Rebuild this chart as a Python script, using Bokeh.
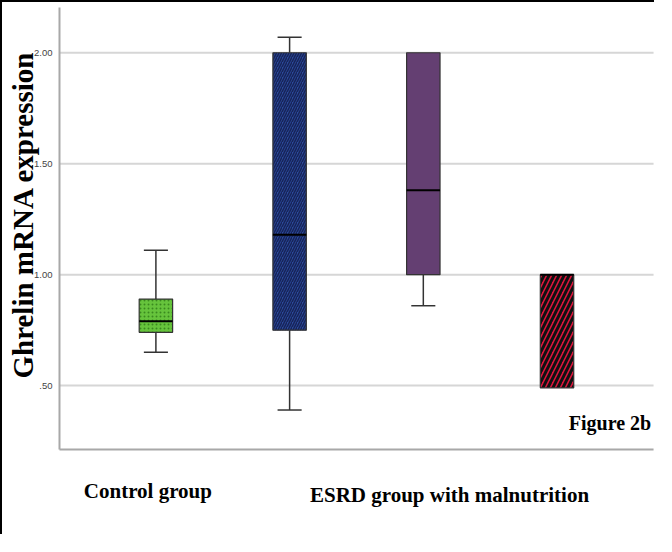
from bokeh.plotting import figure
from bokeh.models import Label, Range1d, ColumnDataSource
from bokeh.embed import file_html
from bokeh.resources import INLINE

# ---- data ----
groups = ["Control", "ESRD A", "ESRD B", "ESRD C"]
positions = [1, 2, 3, 4]
lower_whisker = [0.65, 0.39, 0.86, 0.49]
q1 = [0.74, 0.75, 1.00, 0.49]
median = [0.79, 1.18, 1.38, 1.00]
q3 = [0.89, 2.00, 2.00, 1.00]
upper_whisker = [1.11, 2.07, 2.00, 1.00]
fills = ["#66c43c", "#2c4a9c", "#643f72", "#e0143c"]
hatches = [".", "/", " ", "/"]
hatch_colors = ["#3a8a1e", "#16245a", "#643f72", "#111111"]
y_ticks = [0.5, 1.0, 1.5, 2.0]
y_tick_labels = [".50", "1.00", "1.50", "2.00"]
category_labels = ["Control group", "ESRD group with malnutrition"]
category_label_pos = [0.94, 3.196]

# axis extent (data units)
X_MIN, X_MAX = 0.279, 4.722
Y_MIN, Y_MAX = 0.212, 2.204

W, H = 654, 534
p = figure(width=W, height=H, output_backend="svg", toolbar_location=None,
           x_range=Range1d(-0.1473, 4.744), y_range=Range1d(-0.180, 2.2265),
           min_border=0)
p.styles = {"border-left": "2px solid black", "border-top": "2px solid black"}
p.outline_line_color = None
p.background_fill_color = "white"
p.border_fill_color = "white"
p.xaxis.visible = False
p.yaxis.visible = False
p.xgrid.visible = False
p.ygrid.visible = False

# gridlines
p.segment(x0=[X_MIN] * len(y_ticks), x1=[X_MAX] * len(y_ticks), y0=y_ticks, y1=y_ticks,
          line_color="#d6d6d6", line_width=2)
# axis lines
p.segment(x0=[X_MIN], x1=[X_MIN], y0=[Y_MIN], y1=[Y_MAX], line_color="#a8a8a8", line_width=2)
p.segment(x0=[X_MIN], x1=[X_MAX], y0=[Y_MIN], y1=[Y_MIN], line_color="#a8a8a8", line_width=2)
# tick labels
tick_src = ColumnDataSource(dict(x=[X_MIN] * len(y_ticks), y=y_ticks, t=y_tick_labels))
p.text(x="x", y="y", text="t", source=tick_src, x_offset=-7, text_align="right",
       text_baseline="middle", text_font_size="9.5px", text_color="#444444",
       text_font={"value": "Liberation Sans"})

# whiskers (only where they extend beyond box)
bw = 0.25
cw = 0.18
for i in range(len(groups)):
    x = positions[i]
    if upper_whisker[i] > q3[i]:
        p.segment(x0=[x], y0=[q3[i]], x1=[x], y1=[upper_whisker[i]], line_color="#333333", line_width=1.5)
        p.segment(x0=[x - cw / 2], y0=[upper_whisker[i]], x1=[x + cw / 2], y1=[upper_whisker[i]],
                  line_color="#333333", line_width=1.5)
    if lower_whisker[i] < q1[i]:
        p.segment(x0=[x], y0=[q1[i]], x1=[x], y1=[lower_whisker[i]], line_color="#333333", line_width=1.5)
        p.segment(x0=[x - cw / 2], y0=[lower_whisker[i]], x1=[x + cw / 2], y1=[lower_whisker[i]],
                  line_color="#333333", line_width=1.5)

# boxes
hatch_scales = [4, 5, 8, 10]
hatch_weights = [1, 1.6, 1, 3]
for i in range(len(groups)):
    x = positions[i]
    kw = {}
    if hatches[i].strip():
        kw = dict(hatch_pattern=hatches[i], hatch_color=hatch_colors[i],
                  hatch_scale=hatch_scales[i], hatch_weight=hatch_weights[i])
    p.quad(left=[x - bw / 2], right=[x + bw / 2], bottom=[q1[i]], top=[q3[i]],
           fill_color=fills[i], line_color="#333333", line_width=1.2, **kw)
    p.segment(x0=[x - bw / 2], y0=[median[i]], x1=[x + bw / 2], y1=[median[i]],
              line_color="black", line_width=2)

# texts
serif = "Liberation Serif"
lbl_y = [0.027, 0.005]
for t, xpos, yy in zip(category_labels, category_label_pos, lbl_y):
    p.add_layout(Label(x=xpos, y=yy, text=t, text_font=serif,
                       text_font_style="bold", text_font_size="21px", text_color="black",
                       text_align="center", text_baseline="middle"))

p.add_layout(Label(x=0.007, y=1.27, text="Ghrelin mRNA expression", angle=1.5707963,
                   text_font=serif, text_font_style="bold", text_font_size="29px",
                   text_color="black", text_align="center", text_baseline="middle"))

p.add_layout(Label(x=4.396, y=0.33, text="Figure 2b", text_font=serif,
                   text_font_style="bold", text_font_size="20px", text_color="black",
                   text_align="center", text_baseline="middle"))

open("out.html", "w").write(file_html(p, INLINE))
